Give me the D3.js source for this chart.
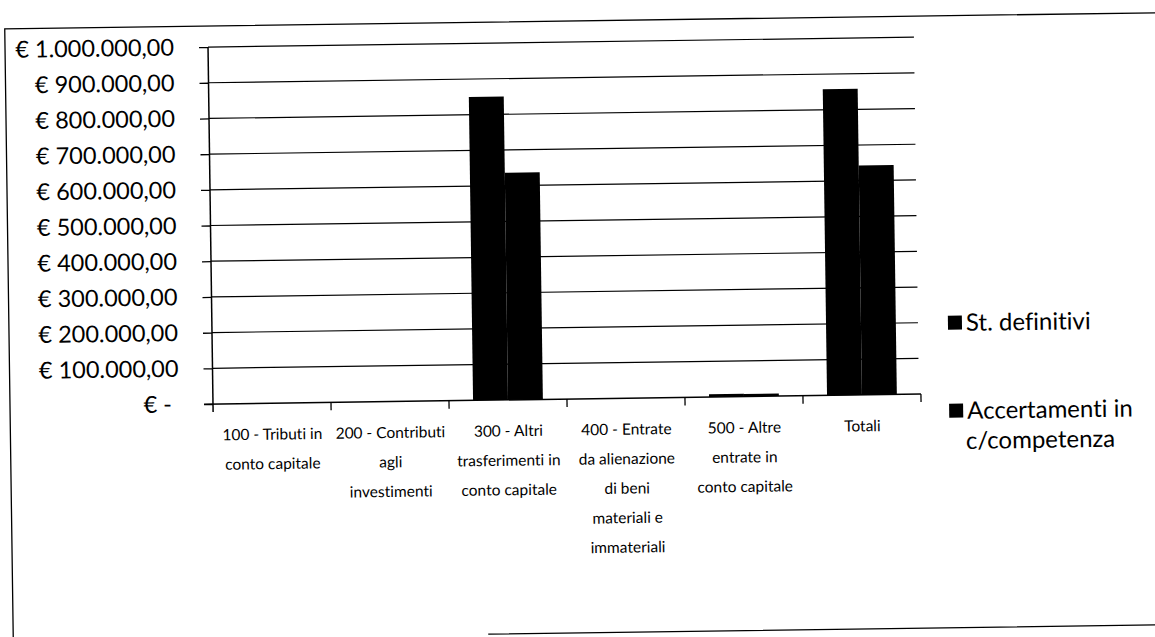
<!DOCTYPE html>
<html>
<head>
<meta charset="utf-8">
<script src="https://cdn.jsdelivr.net/npm/d3@7"></script>
<style>
  html, body { margin: 0; padding: 0; background: #fff; }
  svg { display: block; }
  text { font-family: Lato, "Open Sans", sans-serif; fill: #000; font-variant-ligatures: none; font-feature-settings: "liga" 0; }
</style>
</head>
<body>
<svg id="chart" width="1155" height="637"></svg>
<script>
// Entrate in conto capitale: stanziamenti definitivi vs accertamenti
const categories = [
  "100 - Tributi in conto capitale",
  "200 - Contributi agli investimenti",
  "300 - Altri trasferimenti in conto capitale",
  "400 - Entrate da alienazione di beni materiali e immateriali",
  "500 - Altre entrate in conto capitale",
  "Totali"
];
const categoryLines = [
  ["100 - Tributi in", "conto capitale"],
  ["200 - Contributi", "agli", "investimenti"],
  ["300 - Altri", "trasferimenti in", "conto capitale"],
  ["400 - Entrate", "da alienazione", "di beni", "materiali e", "immateriali"],
  ["500 - Altre", "entrate in", "conto capitale"],
  ["Totali"]
];
const seriesNames = ["St. definitivi", "Accertamenti in c/competenza"];
const stDefinitivi = [0, 0, 850000, 0, 8000, 858000];
const accertamenti = [0, 0, 636000, 0, 7000, 643000];
const yTicks = [0, 100000, 200000, 300000, 400000, 500000, 600000, 700000, 800000, 900000, 1000000];

const seriesValues = [stDefinitivi, accertamenti];

const itLocale = d3.formatLocale({
  decimal: ",", thousands: ".", grouping: [3], currency: ["€ ", ""]
});
const fmtEuro = itLocale.format("$,.2f");
const tickLabel = v => v === 0 ? "€ -" : fmtEuro(v);

const svg = d3.select("#chart");
// the sheet sits slightly tilted on the page
const root = svg.append("g").attr("transform", "rotate(-0.8, 213, 404)");

const plot = { left: 213, right: 921, top: 47, bottom: 404 };

const x = d3.scaleBand().domain(categories).range([plot.left, plot.right]).paddingInner(0).paddingOuter(0);
const xs = d3.scaleBand().domain(seriesNames).range([0, x.bandwidth()]).paddingInner(0).paddingOuter(0.69);
const y = d3.scaleLinear().domain([0, 1000000]).range([plot.bottom, plot.top]);

// chart area frame
root.append("path")
  .attr("d", "M 1170 26 L 10 26 L 10 660 M 485 638 L 1170 638")
  .attr("fill", "none").attr("stroke", "#000").attr("stroke-width", 1.3);

// horizontal gridlines
root.append("g").selectAll("line").data(yTicks.filter(v => v > 0)).join("line")
  .attr("x1", plot.left).attr("x2", plot.right - 2)
  .attr("y1", d => y(d)).attr("y2", d => y(d))
  .attr("stroke", "#000").attr("stroke-width", 1.2);

// bars
const groups = root.append("g").selectAll("g").data(categories).join("g")
  .attr("transform", d => `translate(${x(d)},0)`);
groups.selectAll("rect")
  .data((d, i) => seriesNames.map((s, k) => ({ s, v: seriesValues[k][i] })))
  .join("rect")
  .attr("x", d => xs(d.s))
  .attr("width", xs.bandwidth())
  .attr("y", d => y(d.v))
  .attr("height", d => y(0) - y(d.v))
  .attr("fill", "#000");

// value axis
const yAxis = root.append("g")
  .attr("transform", `translate(${plot.left},0)`)
  .call(d3.axisLeft(y).tickValues(yTicks).tickFormat(tickLabel).tickSize(9).tickPadding(25));
yAxis.select(".domain").attr("stroke", "#000").attr("stroke-width", 1.5)
  .attr("d", `M0,${plot.top}V${plot.bottom + 8}`);
yAxis.selectAll(".tick line").attr("stroke", "#000").attr("stroke-width", 1.3);
yAxis.selectAll(".tick text")
  .style("font-family", "Lato, sans-serif").style("font-size", "23.5px")
  .attr("fill", "#000")
  .attr("dx", d => d === 0 ? -7 : 0);

// category axis
root.append("line")
  .attr("x1", plot.left - 9).attr("x2", plot.right)
  .attr("y1", y(0)).attr("y2", y(0))
  .attr("stroke", "#000").attr("stroke-width", 1.5);
const boundaries = categories.map(c => x(c)).concat([x(categories[categories.length - 1]) + x.bandwidth()]);
root.append("g").selectAll("line").data(boundaries.slice(1)).join("line")
  .attr("x1", d => d).attr("x2", d => d)
  .attr("y1", y(0)).attr("y2", y(0) + 8)
  .attr("stroke", "#000").attr("stroke-width", 1.3);

const labels = root.append("g").selectAll("text").data(categories).join("text")
  .attr("text-anchor", "middle")
  .attr("transform", d => `translate(${x(d) + x.bandwidth() / 2},0)`)
  .style("font-size", "15.5px");
labels.selectAll("tspan").data((d, i) => categoryLines[i]).join("tspan")
  .attr("x", 0)
  .attr("y", (d, j) => 435 + j * 29.5)
  .attr("dy", "0.35em")
  .text(d => d);

// legend
const legend = root.append("g");
const legendRows = [
  { name: seriesNames[0], lines: ["St. definitivi"], y: 333 },
  { name: seriesNames[1], lines: ["Accertamenti in", "c/competenza"], y: 421 }
];
legendRows.forEach(r => {
  legend.append("rect").attr("x", 949).attr("y", r.y - 7).attr("width", 14).attr("height", 14).attr("fill", "#000");
  legend.append("text").attr("x", 967).attr("y", r.y).attr("dy", "0.35em")
    .style("font-size", "24px").text(r.lines[0]);
  if (r.lines[1]) {
    legend.append("text").attr("x", 1040).attr("y", r.y + 30).attr("dy", "0.35em")
      .attr("text-anchor", "middle").style("font-size", "24px").text(r.lines[1]);
  }
});
</script>
</body>
</html>
